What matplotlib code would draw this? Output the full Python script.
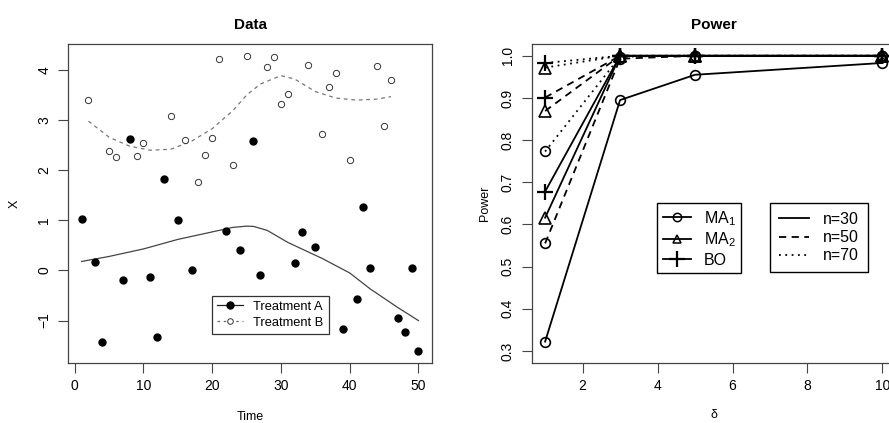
import numpy as np
import matplotlib.pyplot as plt
from matplotlib.lines import Line2D

plt.rcParams['font.family'] = ['Liberation Sans', 'DejaVu Sans']
plt.rcParams['mathtext.fontset'] = 'custom'
plt.rcParams['mathtext.rm'] = 'Liberation Sans'

# ---- left panel: raw observations
time_a = [1, 3, 4, 7, 8, 11, 12, 13, 15, 17, 22, 24, 26, 27, 32, 33, 35, 39, 41, 42, 43, 47, 48, 49, 50]
x_a = [1.02, 0.16, -1.42, -0.18, 2.63, -0.13, -1.32, 1.83, 1.0, 0.0, 0.79, 0.41, 2.59, -0.10,
       0.15, 0.76, 0.46, -1.16, -0.57, 1.26, 0.04, -0.94, -1.22, 0.04, -1.61]
time_b = [2, 5, 6, 9, 10, 14, 16, 18, 19, 20, 21, 23, 25, 28, 29, 30, 31, 34, 36, 37, 38, 40, 44, 45, 46]
x_b = [3.41, 2.38, 2.27, 2.29, 2.54, 3.09, 2.60, 1.76, 2.30, 2.64, 4.23, 2.10, 4.28, 4.07,
       4.26, 3.32, 3.52, 4.11, 2.73, 3.66, 3.95, 2.20, 4.09, 2.89, 3.81]

# smoothed curves
fit_a_t = [1, 5, 10, 15, 20, 23, 25, 26, 28, 31, 36, 40, 43, 47, 50]
fit_a_y = [0.18, 0.28, 0.43, 0.62, 0.77, 0.86, 0.885, 0.88, 0.80, 0.56, 0.24, -0.05, -0.37, -0.74, -1.0]
fit_b_t = [2, 5, 8, 11, 14, 17, 20, 23, 25, 27, 30, 32, 35, 38, 41, 44, 46]
fit_b_y = [2.98, 2.66, 2.48, 2.40, 2.42, 2.58, 2.83, 3.19, 3.50, 3.72, 3.89, 3.82, 3.57, 3.44, 3.40, 3.42, 3.47]

# ---- right panel: power curves
delta = [1, 3, 5, 10]
ma1_n30 = [0.322, 0.895, 0.955, 0.983]
ma2_n30 = [0.616, 1.0, 1.0, 1.0]
bo_n30 = [0.678, 1.0, 1.0, 1.0]
ma1_n50 = [0.555, 0.993, 1.0, 1.0]
ma2_n50 = [0.869, 1.0, 1.0, 1.0]
bo_n50 = [0.901, 1.0, 1.0, 1.0]
ma1_n70 = [0.773, 0.998, 1.0, 1.0]
ma2_n70 = [0.972, 1.0, 1.0, 1.0]
bo_n70 = [0.983, 1.0, 1.0, 1.0]

fig = plt.figure(figsize=(8.89, 4.23), dpi=100)
ax1 = fig.add_axes([0.0766, 0.1426, 0.4093, 0.7534])
ax2 = fig.add_axes([0.598, 0.1426, 0.4098, 0.7534])

for ax in (ax1, ax2):
    for s in ax.spines.values():
        s.set_color('#444444')
        s.set_linewidth(0.9)
    ax.tick_params(length=7, width=0.8, color='#444444', labelsize=10, pad=5)
    ax.tick_params(axis='y', labelrotation=90)
    for lab in ax.get_yticklabels():
        lab.set_va('center')

# left
ax1.plot(fit_a_t, fit_a_y, '-', color='#444444', lw=0.9)
ax1.plot(fit_b_t, fit_b_y, '--', color='#777777', lw=0.9, dashes=(3, 3))
ax1.plot(time_a, x_a, 'o', color='black', ms=5, ls='none')
ax1.plot(time_b, x_b, 'o', mfc='white', mec='#333333', mew=0.7, ms=4.5, ls='none')
ax1.set_xlim(-0.96, 51.96)
ax1.set_ylim(-1.84, 4.52)
ax1.set_xticks([0, 10, 20, 30, 40, 50])
ax1.set_yticks([-1, 0, 1, 2, 3, 4])
ax1.set_title('Data', fontsize=11, fontweight='bold', pad=11)
ax1.set_xlabel('Time', fontsize=9, labelpad=13)
ax1.set_ylabel('X', fontsize=9, labelpad=12)
hA = Line2D([], [], color='#222222', lw=0.9, marker='o', ms=5, mfc='black', mec='black')
hB = Line2D([], [], color='#666666', lw=0.9, ls='--', dashes=(2, 3), marker='o', ms=4,
            mfc='white', mec='#333333', mew=0.7)
leg1 = ax1.legend([hA, hB], ['Treatment A', 'Treatment B'], loc='upper left',
                  bbox_to_anchor=(0.3954, 0.2102), borderaxespad=0, fontsize=9.3,
                  fancybox=False, edgecolor='#333333', framealpha=1, handlelength=2.0,
                  handletextpad=0.8, labelspacing=0.3, borderpad=0.4)
leg1.get_frame().set_linewidth(0.9)

# right
styles = {'n30': '-', 'n50': (0, (4, 3)), 'n70': (0, (1, 2.5))}
series = [
    (ma1_n30, 'o', 'n30'), (ma2_n30, '^', 'n30'), (bo_n30, '+', 'n30'),
    (ma1_n50, 'o', 'n50'), (ma2_n50, '^', 'n50'), (bo_n50, '+', 'n50'),
    (ma1_n70, 'o', 'n70'), (ma2_n70, '^', 'n70'), (bo_n70, '+', 'n70'),
]
mk = {'o': dict(ms=7, mew=1.2), '^': dict(ms=8, mew=1.2), '+': dict(ms=11, mew=1.6)}
for vals, m, n in series:
    ax2.plot(delta, vals, color='black', lw=1.3, ls=styles[n], marker=m,
             mfc='none', mec='black', **mk[m])
ax2.set_xlim(0.64, 10.36)
ax2.set_ylim(0.272, 1.028)
ax2.set_xticks([2, 4, 6, 8, 10])
ax2.set_yticks([0.3, 0.4, 0.5, 0.6, 0.7, 0.8, 0.9, 1.0])
ax2.set_yticklabels(['0.3', '0.4', '0.5', '0.6', '0.7', '0.8', '0.9', '1.0'])
ax2.set_title('Power', fontsize=11, fontweight='bold', pad=11)
ax2.set_xlabel('δ', fontsize=9, labelpad=11)
ax2.set_ylabel('Power', fontsize=9, labelpad=7)

h1 = [Line2D([], [], color='black', lw=1.3, marker='o', ms=6, mfc='none', mew=1.1),
      Line2D([], [], color='black', lw=1.3, marker='^', ms=6, mfc='none', mew=1.1),
      Line2D([], [], color='black', lw=1.3, marker='+', ms=11, mew=1.6)]
lg_a = ax2.legend(h1, [r'MA$_\mathregular{1}$', r'MA$_\mathregular{2}$', 'BO'],
                  loc='upper left', bbox_to_anchor=(0.3448, 0.5002), borderaxespad=0,
                  fontsize=11.5, fancybox=False, edgecolor='black', framealpha=1,
                  handlelength=1.75, handletextpad=0.8, labelspacing=0.2, borderpad=0.35)
lg_a.get_frame().set_linewidth(1.0)
ax2.add_artist(lg_a)
h2 = [Line2D([], [], color='black', lw=1.3, ls=styles['n30']),
      Line2D([], [], color='black', lw=1.3, ls=styles['n50']),
      Line2D([], [], color='black', lw=1.3, ls=styles['n70'])]
lg_b = ax2.legend(h2, ['n=30', 'n=50', 'n=70'], loc='upper left',
                  bbox_to_anchor=(0.654, 0.5002), borderaxespad=0, fontsize=11.5,
                  fancybox=False, edgecolor='black', framealpha=1, handlelength=1.9,
                  handletextpad=0.9, labelspacing=0.2, borderpad=0.55)
lg_b.get_frame().set_linewidth(1.0)

fig.savefig('out.png', dpi=100)
